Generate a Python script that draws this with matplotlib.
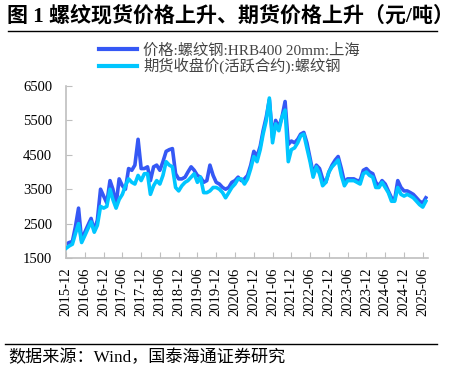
import matplotlib
matplotlib.use("Agg")
import matplotlib.pyplot as plt
import matplotlib.dates as mdates
import pandas as pd

plt.rcParams['font.family'] = ['Liberation Serif', 'Noto Sans CJK SC']
plt.rcParams['axes.unicode_minus'] = False

# monthly readings, 2015-12 .. 2025-07
months = pd.date_range('2015-12-01', '2025-07-01', freq='MS')

spot = [
    1900,
    1950, 1980, 2400, 2950, 2000, 2250, 2450, 2650, 2300, 2600, 3500, 3300,   # 2016
    3100, 3750, 3500, 3050, 3800, 3600, 3500, 4100, 4050, 4200, 4950, 4100,   # 2017
    4100, 4150, 3750, 4150, 4200, 4050, 4300, 4600, 4650, 4680, 3950, 3800,   # 2018
    3800, 3850, 4000, 4150, 4050, 3900, 3850, 3700, 3750, 4200, 3900, 3700,   # 2019
    3650, 3550, 3500, 3550, 3700, 3750, 3850, 3750, 3800, 3900, 4200, 4600,   # 2020
    4450, 4750, 5200, 5600, 6100, 5000, 5500, 5300, 5600, 6050, 4800, 4900,   # 2021
    4850, 4950, 5100, 5150, 4850, 4400, 3950, 4200, 4100, 3800, 3700, 4000,   # 2022
    4200, 4350, 4450, 4100, 3700, 3800, 3800, 3800, 3750, 3750, 4050, 4100,   # 2023
    4000, 3950, 3700, 3600, 3750, 3650, 3450, 3250, 3200, 3750, 3550, 3450,   # 2024
    3450, 3400, 3350, 3250, 3150, 3100, 3250,                                 # 2025
]

futures = [
    1780,
    1850, 1900, 2200, 2500, 1950, 2150, 2350, 2550, 2250, 2450, 3000, 2950,   # 2016
    3000, 3500, 3200, 2950, 3200, 3350, 3600, 3800, 3700, 3650, 3900, 3750,   # 2017
    3950, 3950, 3350, 3600, 3750, 3650, 3900, 4300, 4200, 4150, 3550, 3450,   # 2018
    3600, 3700, 3750, 3850, 3950, 3700, 3850, 3400, 3400, 3450, 3550, 3550,   # 2019
    3500, 3400, 3250, 3400, 3550, 3650, 3800, 3800, 3650, 3800, 4100, 4450,   # 2020
    4300, 4650, 5100, 5500, 6150, 4850, 5400, 5200, 5600, 5800, 4300, 4650,   # 2021
    4700, 4850, 5050, 5100, 4700, 4300, 3850, 4150, 3950, 3600, 3700, 4000,   # 2022
    4150, 4250, 4350, 3900, 3600, 3750, 3750, 3750, 3700, 3650, 3950, 4000,   # 2023
    3900, 3850, 3550, 3550, 3700, 3550, 3400, 3150, 3150, 3550, 3350, 3300,   # 2024
    3350, 3300, 3250, 3150, 3050, 2980, 3150,                                 # 2025
]

title = '图 1 螺纹现货价格上升、期货价格上升（元/吨）'
label_spot = '价格:螺纹钢:HRB400 20mm:上海'
label_fut = '期货收盘价(活跃合约):螺纹钢'
source = '数据来源：Wind，国泰海通证券研究'

blue = '#3558F5'
cyan = '#00C6FF'
grey = '#BFBFBF'

fig = plt.figure(figsize=(4.6, 3.74), dpi=100)
ax = fig.add_axes([66 / 460, 1 - 258 / 374, 362 / 460, 172 / 374])

ax.plot(months, spot, color=blue, lw=2.6, label=label_spot, zorder=2)
ax.plot(months, futures, color=cyan, lw=2.6, label=label_fut, zorder=3)

ax.set_ylim(1500, 6500)
ax.set_yticks(range(1500, 6501, 1000))
ax.set_xlim(pd.Timestamp('2015-12-01'), pd.Timestamp('2025-07-22'))
ax.xaxis.set_major_locator(mdates.MonthLocator(bymonth=[6, 12]))
ax.xaxis.set_major_formatter(mdates.DateFormatter('%Y-%m'))
ax.tick_params(axis='x', rotation=90, direction='in', length=4, color=grey,
               labelsize=10.5, pad=7)
ax.tick_params(axis='y', direction='in', length=4, color=grey,
               labelsize=10.5, pad=10)

for side in ['top', 'right']:
    ax.spines[side].set_visible(False)
for side in ['left', 'bottom']:
    ax.spines[side].set_color(grey)
    ax.spines[side].set_linewidth(1.2)

leg = fig.legend(loc='upper center', bbox_to_anchor=(0.498, 1 - 36 / 374),
                 frameon=False, fontsize=11, handlelength=2.5,
                 labelspacing=0.0, handletextpad=0.4, borderpad=0)
for line in leg.get_lines():
    line.set_linewidth(3)
for t in leg.get_texts():
    t.set_color('#444444')

fig.text(7 / 460, 1 - 16 / 374, title, fontsize=15.1, fontweight='bold',
         va='center', ha='left')
fig.add_artist(plt.Line2D([8 / 460, 437 / 460], [1 - 31 / 374] * 2,
                          color='black', lw=1))
fig.add_artist(plt.Line2D([5 / 460, 437 / 460], [1 - 344 / 374] * 2,
                          color='black', lw=1))
fig.text(8 / 460, 1 - 358 / 374, source, fontsize=12.3, va='center', ha='left')

fig.savefig('out.png', dpi=100)
